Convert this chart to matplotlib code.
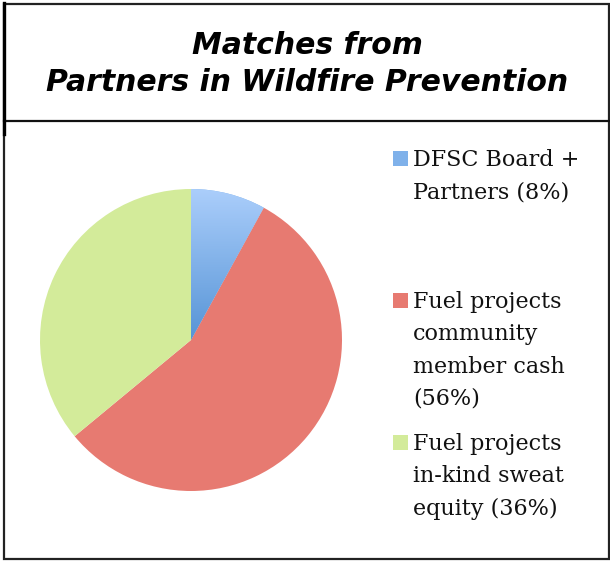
import matplotlib.pyplot as plt
from matplotlib.patches import Rectangle
from matplotlib.colors import LinearSegmentedColormap
import numpy as np

# chart data
title_lines = ["Matches from", "Partners in Wildfire Prevention"]
labels = ["DFSC Board +\nPartners (8%)",
          "Fuel projects\ncommunity\nmember cash\n(56%)",
          "Fuel projects\nin-kind sweat\nequity (36%)"]
values = [8, 56, 36]
colors = ["#7fb1ea", "#e77a71", "#d3eb9a"]

W, H = 610, 561
fig = plt.figure(figsize=(W / 100, H / 100), dpi=100)

# overlay axes in pixel coords for the boxes and legend
bg = fig.add_axes([0, 0, 1, 1])
bg.set_xlim(0, W)
bg.set_ylim(H, 0)
bg.axis("off")

bg.add_patch(Rectangle((4, 4), 605, 555, fill=False, edgecolor="#222222", lw=1.6))
bg.plot([4, 609], [121, 121], color="#111111", lw=1.6)
bg.plot([4, 4], [3, 134], color="black", lw=2.4)

bg.text(W / 2 + 2, 45, title_lines[0], ha="center", va="center", fontsize=21.5,
        fontweight="bold", fontstyle="italic", family="DejaVu Sans")
bg.text(W / 2 + 2, 82, title_lines[1], ha="center", va="center", fontsize=21.5,
        fontweight="bold", fontstyle="italic", family="DejaVu Sans")

# legend, drawn by hand
entry_top = [160, 302, 444]
line_h = 32.3
for i, lab in enumerate(labels):
    y0 = entry_top[i]
    bg.add_patch(Rectangle((393, y0 - 9), 15, 15, facecolor=colors[i], edgecolor="none"))
    for j, line in enumerate(lab.split("\n")):
        bg.text(413, y0 + j * line_h, line, ha="left", va="center",
                fontsize=16, family="DejaVu Serif", color="#111111")

# pie
ax = fig.add_axes([(191 - 151) / W, (H - 491) / H, 302 / W, 302 / H])
wedges, _ = ax.pie(values, colors=colors, startangle=90, counterclock=False,
                   radius=1, wedgeprops=dict(linewidth=0))
ax.set_aspect("equal")

# vertical gradient on the first slice
cmap = LinearSegmentedColormap.from_list("blu", ["#5694d6", "#abcefb"])
grad = np.linspace(0, 1, 256).reshape(-1, 1)
im = ax.imshow(grad, cmap=cmap, origin="lower", extent=[-1, 1, 0, 1],
               aspect="auto", zorder=3)
im.set_clip_path(wedges[0])
ax.set_xlim(-1, 1)
ax.set_ylim(-1, 1)

fig.savefig("out.png", dpi=100)
